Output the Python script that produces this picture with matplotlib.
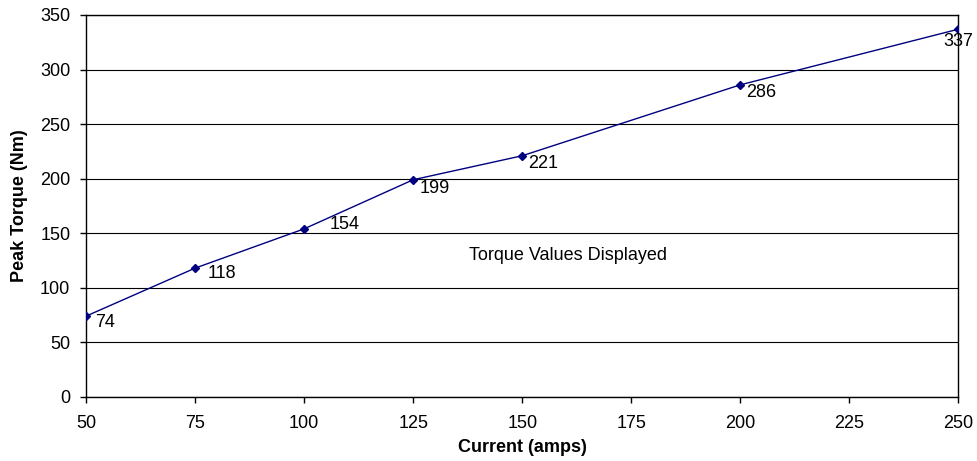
import matplotlib
matplotlib.use("Agg")
import matplotlib.pyplot as plt

plt.rcParams["font.family"] = ["Liberation Sans", "DejaVu Sans"]

current = [50, 75, 100, 125, 150, 200, 250]
torque = [74, 118, 154, 199, 221, 286, 337]
x_ticks = [50, 75, 100, 125, 150, 175, 200, 225, 250]
y_ticks = [0, 50, 100, 150, 200, 250, 300, 350]

# where Excel put each data label, in pixels from its point (left edge, centre)
label_dx = [9, 13, 26, 6, 6, 6, -15]
label_dy = [-6, -5.5, 4, -9, -8, -8, -12]

fig = plt.figure(figsize=(9.77, 4.61), dpi=100)
ax = fig.add_axes([0.088, 0.139, 0.893, 0.8285])

ax.plot(current, torque, color="#000080", lw=1.0, marker="D", ms=4.5,
        markerfacecolor="#000080", markeredgecolor="#000080", zorder=3)

for x, y, dx, dy in zip(current, torque, label_dx, label_dy):
    ax.annotate(str(y), (x, y), xytext=(dx, dy), textcoords="offset pixels",
                fontsize=13, ha="left", va="center", color="black",
                annotation_clip=False)

ax.text(0.553, 0.369, "Torque Values Displayed", transform=ax.transAxes,
        fontsize=13, ha="center", va="center")

ax.set_xlim(50, 250)
ax.set_ylim(0, 350)
ax.set_xticks(x_ticks)
ax.set_yticks(y_ticks)
ax.tick_params(axis="both", labelsize=13, length=4.3, width=1, direction="out")
ax.tick_params(axis="y", pad=7)
ax.tick_params(axis="x", pad=9)
ax.yaxis.grid(True, color="black", lw=0.8)
ax.set_axisbelow(True)
for s in ax.spines.values():
    s.set_linewidth(1.0)
    s.set_color("black")

ax.set_xlabel("Current (amps)", fontsize=13, fontweight="bold", labelpad=5)
ax.set_ylabel("Peak Torque (Nm)", fontsize=13, fontweight="bold", labelpad=9)

fig.savefig("out.png", dpi=100)
